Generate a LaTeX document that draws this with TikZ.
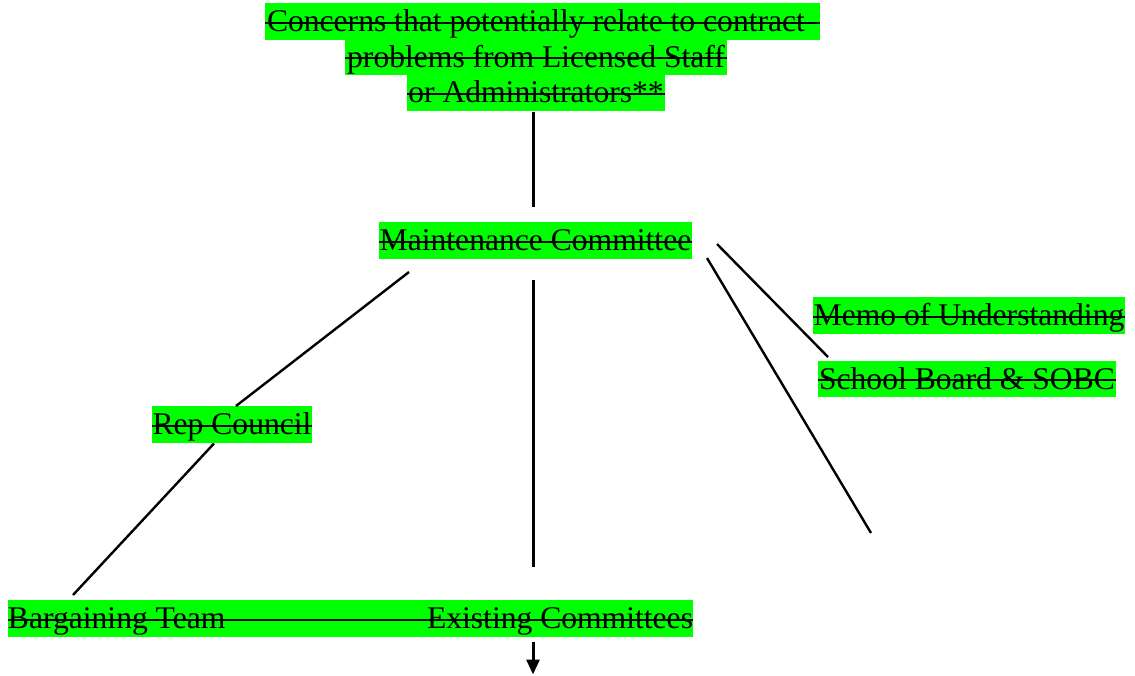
\documentclass[tikz,border=0pt]{standalone}
\usepackage{fontspec}
\setmainfont{Liberation Serif}
\usetikzlibrary{calc,arrows.meta}
\definecolor{hl}{RGB}{0,255,0}
\begin{document}
\begin{tikzpicture}[x=1pt,y=-1pt,
  hlbox/.style={fill=hl, inner sep=0pt, outer sep=0pt, anchor=north west,
    text height=28.5pt, text depth=8pt,
    font=\fontsize{31.6}{36}\selectfont,
    path picture={\draw[line width=2.1pt]
      ($(path picture bounding box.west)+(0,1.3)$) --
      ($(path picture bounding box.east)+(0,1.3)$);}},
  conn/.style={line width=2.4pt, line cap=butt},
  vconn/.style={line width=3pt}]
\useasboundingbox (0,0) rectangle (1135,675);
\node[hlbox] (t1) at (265,3) {\makebox[555pt][l]{\hspace*{2pt}Concerns that potentially relate to contract}};
\node[hlbox, minimum width=382pt] (t2) at (345,38.5) {problems from Licensed Staff};
\node[hlbox, minimum width=258pt] (t3) at (407,74) {or Administrators**};
\node[hlbox, minimum width=313pt] (mc) at (379,222) {Maintenance Committee};
\node[hlbox, minimum width=312pt] (memo) at (813,297) {Memo of Understanding};
\node[hlbox, minimum width=298pt] (sb) at (818,360.5) {School Board \& SOBC};
\node[hlbox, minimum width=160pt] (rc) at (152,406) {Rep Council};
\node[hlbox] (bt) at (8,600) {\makebox[685pt]{Bargaining Team\hfill Existing Committees}};
\coordinate (bend) at (871,533);
% connectors
\draw[vconn] ($(t3.south)+(-3,1.5)$) -- ($(mc.north)+(-2.5,-15)$);
\draw[vconn] ($(mc.south)+(-2.5,21.5)$) -- ($(bt.north west)+(525,-33)$);
\draw[conn] ($(mc.south west)+(30,13.5)$) -- ($(rc.north west)+(84,0)$);
\draw[conn] ($(rc.south west)+(62,1)$) -- ($(bt.north west)+(65,-5)$);
\draw[conn] ($(mc.east)+(25,3.75)$) -- ($(sb.north west)+(10,-3.5)$);
\draw[conn] ($(mc.south east)+(15,-0.5)$) -- (bend);
\draw[vconn, -{Triangle[width=13pt,length=15pt]}] ($(bt.south west)+(525,5)$) -- ($(bt.south west)+(525,38)$);
\end{tikzpicture}
\end{document}
